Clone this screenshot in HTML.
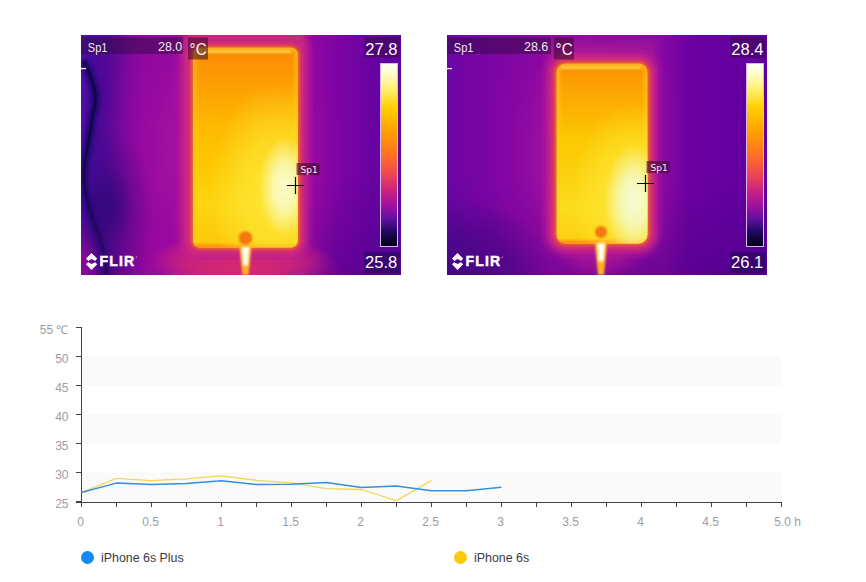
<!DOCTYPE html>
<html><head><meta charset="utf-8">
<style>
html,body{margin:0;padding:0;background:#fff;}
body{width:866px;height:582px;position:relative;overflow:hidden;font-family:"Liberation Sans",Arial,sans-serif;}
.th{position:absolute;top:35px;width:320px;height:240px;overflow:hidden;}
#t1{left:81px;} #t2{left:447px;}
.th svg{display:block;}
#chart{position:absolute;left:0;top:0;}
.lg{position:absolute;top:550px;font-size:12.4px;color:#3a3a44;line-height:16px;}
.lg i{position:absolute;left:0;top:1px;width:13px;height:13px;border-radius:50%;}
.lg span{position:absolute;left:20px;top:-0.5px;white-space:nowrap;}
</style></head>
<body>

<div class="th" id="t1">
<svg width="320" height="240" viewBox="0 0 320 240">
<defs>
  <filter id="b1" x="-50%" y="-50%" width="200%" height="200%"><feGaussianBlur stdDeviation="1"/></filter>
  <filter id="b2" x="-50%" y="-50%" width="200%" height="200%"><feGaussianBlur stdDeviation="2"/></filter>
  <filter id="b3" x="-50%" y="-50%" width="200%" height="200%"><feGaussianBlur stdDeviation="3"/></filter>
  <filter id="b4" x="-50%" y="-50%" width="200%" height="200%"><feGaussianBlur stdDeviation="4"/></filter>
  <filter id="b5" x="-50%" y="-50%" width="200%" height="200%"><feGaussianBlur stdDeviation="5"/></filter>
  <filter id="b8" x="-50%" y="-50%" width="200%" height="200%"><feGaussianBlur stdDeviation="8"/></filter>
  <filter id="b14" x="-50%" y="-50%" width="200%" height="200%"><feGaussianBlur stdDeviation="14"/></filter>
  <filter id="b22" x="-100%" y="-100%" width="300%" height="300%"><feGaussianBlur stdDeviation="22"/></filter>
  <radialGradient id="sMag" cx="0.5" cy="0.5" r="0.5"><stop offset="0" stop-color="#9c08a0" stop-opacity="0.75"/><stop offset="0.5" stop-color="#9c08a0" stop-opacity="0.45"/><stop offset="1" stop-color="#9c08a0" stop-opacity="0"/></radialGradient>
  <radialGradient id="sInd" cx="0.5" cy="0.5" r="0.5"><stop offset="0" stop-color="#300878" stop-opacity="0.6"/><stop offset="0.5" stop-color="#300878" stop-opacity="0.35"/><stop offset="1" stop-color="#300878" stop-opacity="0"/></radialGradient>
  <radialGradient id="sPk" cx="0.5" cy="0.5" r="0.5"><stop offset="0" stop-color="#c01c90" stop-opacity="0.95"/><stop offset="0.55" stop-color="#c01c90" stop-opacity="0.6"/><stop offset="1" stop-color="#c01c90" stop-opacity="0"/></radialGradient>
  <radialGradient id="sRd" cx="0.5" cy="0.5" r="0.5"><stop offset="0" stop-color="#dc2c68" stop-opacity="1"/><stop offset="0.55" stop-color="#d82a6c" stop-opacity="0.7"/><stop offset="1" stop-color="#d82a6c" stop-opacity="0"/></radialGradient>
  <radialGradient id="gl" cx="0.5" cy="0.5" r="0.5">
    <stop offset="0" stop-color="#a810a0" stop-opacity="1"/>
    <stop offset="0.5" stop-color="#a010a0" stop-opacity="0.9"/>
    <stop offset="0.75" stop-color="#9808a0" stop-opacity="0.5"/>
    <stop offset="1" stop-color="#9008a0" stop-opacity="0"/>
  </radialGradient>
  <radialGradient id="gl2" cx="0.5" cy="0.5" r="0.5">
    <stop offset="0" stop-color="#a010a0" stop-opacity="0.9"/>
    <stop offset="0.5" stop-color="#9c10a0" stop-opacity="0.65"/>
    <stop offset="0.75" stop-color="#9008a0" stop-opacity="0.4"/>
    <stop offset="1" stop-color="#9008a0" stop-opacity="0"/>
  </radialGradient>
  <linearGradient id="vd" x1="0" y1="0" x2="0" y2="1">
    <stop offset="0" stop-color="#300070" stop-opacity="0"/>
    <stop offset="0.6" stop-color="#300070" stop-opacity="0"/>
    <stop offset="1" stop-color="#300070" stop-opacity="0.3"/>
  </linearGradient>
  <radialGradient id="hs" cx="0.5" cy="0.5" r="0.5">
    <stop offset="0" stop-color="#fffff4" stop-opacity="1"/>
    <stop offset="0.4" stop-color="#fcfcc8" stop-opacity="0.8"/>
    <stop offset="1" stop-color="#f8f0a0" stop-opacity="0"/>
  </radialGradient>
  <linearGradient id="cb" x1="0" y1="0" x2="0" y2="1">
    <stop offset="0" stop-color="#fffff4"/>
    <stop offset="0.06" stop-color="#fffcc8"/>
    <stop offset="0.14" stop-color="#fff070"/>
    <stop offset="0.24" stop-color="#ffd000"/>
    <stop offset="0.37" stop-color="#ffa000"/>
    <stop offset="0.5" stop-color="#ff7024"/>
    <stop offset="0.6" stop-color="#f04850"/>
    <stop offset="0.7" stop-color="#c82084"/>
    <stop offset="0.78" stop-color="#a010a0"/>
    <stop offset="0.85" stop-color="#6010a0"/>
    <stop offset="0.92" stop-color="#200860"/>
    <stop offset="1" stop-color="#000010"/>
  </linearGradient>

  <linearGradient id="bg1" x1="0" y1="0" x2="320" y2="0" gradientUnits="userSpaceOnUse">
    <stop offset="0" stop-color="#5810a8"/>
    <stop offset="0.03" stop-color="#4a0ca0"/>
    <stop offset="0.06" stop-color="#500898"/>
    <stop offset="0.1" stop-color="#5c0898"/>
    <stop offset="0.16" stop-color="#8008a0"/>
    <stop offset="0.2" stop-color="#9008a0"/>
    <stop offset="0.72" stop-color="#9008a2"/>
    <stop offset="0.8" stop-color="#7c04a4"/>
    <stop offset="0.9" stop-color="#6a02a2"/>
    <stop offset="1" stop-color="#5c06a0"/>
  </linearGradient>
  <linearGradient id="ph1" x1="0" y1="12.5" x2="0" y2="212.5" gradientUnits="userSpaceOnUse">
    <stop offset="0.000" stop-color="#fc8a08"/>
    <stop offset="0.138" stop-color="#fd9802"/>
    <stop offset="0.388" stop-color="#ffb800"/>
    <stop offset="0.588" stop-color="#fcc800"/>
    <stop offset="0.787" stop-color="#fdd510"/>
    <stop offset="1.000" stop-color="#fcc808"/>
  </linearGradient>
  <radialGradient id="ov1" cx="0.5" cy="0.5" r="0.5">
    <stop offset="0" stop-color="#fde838" stop-opacity="0.95"/>
    <stop offset="0.5" stop-color="#fde838" stop-opacity="0.6"/>
    <stop offset="1" stop-color="#fde838" stop-opacity="0"/>
  </radialGradient>
  <radialGradient id="hc1" cx="0.5" cy="0.5" r="0.5">
    <stop offset="0" stop-color="#fafcd0" stop-opacity="1"/>
    <stop offset="0.45" stop-color="#fafcd0" stop-opacity="0.75"/>
    <stop offset="1" stop-color="#fafcd0" stop-opacity="0"/>
  </radialGradient>
  <clipPath id="pc1"><rect x="112" y="12.5" width="104.8" height="200" rx="7"/></clipPath>
</defs>
<rect width="320" height="240" fill="url(#bg1)"/>
<rect width="320" height="240" fill="url(#vd)"/>
<ellipse cx="2" cy="230" rx="22" ry="50" fill="url(#sMag)"/>
<ellipse cx="2" cy="230" rx="14" ry="35" fill="url(#sMag)"/>
<path d="M3 26 C3.8 27.8,6.3 33.2,7.8 37 C9.3 40.8,10.9 45.0,12 49 C13.1 53.0,14.2 57.0,14.5 61 C14.8 65.0,14.1 69.0,13.5 73 C12.9 77.0,11.5 81.3,10.8 85 C10.2 88.7,10.2 90.8,9.6 95 C9.0 99.2,7.9 104.5,7 110 C6.1 115.5,4.7 122.2,4 128 C3.3 133.8,2.7 139.0,3 145 C3.3 151.0,4.3 157.2,6 164 C7.7 170.8,10.4 178.2,13 186 C15.6 193.8,19.4 202.0,21.5 211 C23.6 220.0,25.0 235.2,25.7 240" stroke="#2a0a80" stroke-width="9" fill="none" opacity="0.5" filter="url(#b4)"/>
<path d="M3 26 C3.8 27.8,6.3 33.2,7.8 37 C9.3 40.8,10.9 45.0,12 49 C13.1 53.0,14.2 57.0,14.5 61 C14.8 65.0,14.1 69.0,13.5 73 C12.9 77.0,11.5 81.3,10.8 85 C10.2 88.7,10.2 90.8,9.6 95 C9.0 99.2,7.9 104.5,7 110 C6.1 115.5,4.7 122.2,4 128 C3.3 133.8,2.7 139.0,3 145 C3.3 151.0,4.3 157.2,6 164 C7.7 170.8,10.4 178.2,13 186 C15.6 193.8,19.4 202.0,21.5 211 C23.6 220.0,25.0 235.2,25.7 240" stroke="#1a0868" stroke-width="6" fill="none" filter="url(#b2)"/>
<path d="M3 26 C3.8 27.8,6.3 33.2,7.8 37 C9.3 40.8,10.9 45.0,12 49 C13.1 53.0,14.2 57.0,14.5 61 C14.8 65.0,14.1 69.0,13.5 73 C12.9 77.0,11.5 81.3,10.8 85 C10.2 88.7,10.2 90.8,9.6 95 C9.0 99.2,7.9 104.5,7 110 C6.1 115.5,4.7 122.2,4 128 C3.3 133.8,2.7 139.0,3 145 C3.3 151.0,4.3 157.2,6 164 C7.7 170.8,10.4 178.2,13 186 C15.6 193.8,19.4 202.0,21.5 211 C23.6 220.0,25.0 235.2,25.7 240" stroke="#12044a" stroke-width="3" fill="none" filter="url(#b1)"/>
<ellipse cx="142" cy="125" rx="120" ry="200" fill="url(#gl)"/>
<ellipse cx="80" cy="210" rx="70" ry="75" fill="url(#sMag)"/>
<ellipse cx="28" cy="178" rx="45" ry="85" fill="url(#sInd)"/>
<ellipse cx="28" cy="170" rx="22" ry="40" fill="url(#sInd)"/>
<ellipse cx="160" cy="236" rx="100" ry="40" fill="url(#sPk)"/>
<ellipse cx="160" cy="226" rx="90" ry="28" fill="url(#sRd)"/>
<rect x="104" y="-5" width="120" height="22" fill="#dc3464" filter="url(#b5)"/>
<rect x="101" y="1.5" width="126.8" height="222" rx="18" fill="#bc1c98" filter="url(#b5)"/>
<rect x="99" y="8" width="18" height="212" fill="#cc2488" opacity="0.5" filter="url(#b4)"/>
<rect x="106" y="6.5" width="116.8" height="212" rx="13" fill="#d83068" filter="url(#b3)"/>
<rect x="110" y="10.5" width="108.8" height="204" rx="9" fill="#ec6030" filter="url(#b1)"/>
<g clip-path="url(#pc1)">
  <rect x="112" y="12.5" width="104.8" height="200" fill="url(#ph1)"/>
  <rect x="112" y="12.5" width="104.8" height="200" rx="7" fill="none" stroke="#fcd028" stroke-opacity="0.7" stroke-width="5" filter="url(#b2)"/>
  <rect x="112" y="209.0" width="104.8" height="6" fill="#fc9810" filter="url(#b1)"/>
  <ellipse cx="196" cy="158" rx="68" ry="110" fill="url(#ov1)"/>
  <ellipse cx="204" cy="152" rx="26" ry="50" fill="url(#hc1)"/>
  <rect x="117" y="15.0" width="92.8" height="3" fill="#ffd040" filter="url(#b1)"/>
</g>
<circle cx="164.5" cy="203" r="6.8" fill="#f47810" filter="url(#b1)"/>
<path d="M158.5 212.0 L170.5 212.0 L167.5 240 L161.5 240 Z" fill="#ffb020" filter="url(#b1)"/>
<path d="M160.5 212.0 L168.5 212.0 L167.0 230.5 L162.0 230.5 Z" fill="#fffce8" filter="url(#b1)"/>
<rect x="0" y="2.5" width="102" height="16.5" fill="#300a40" opacity="0.5"/>
<text x="6.8" y="16.5" font-family="Liberation Sans,sans-serif" font-size="12.8" fill="#f4e8f4" textLength="19.6" lengthAdjust="spacingAndGlyphs">Sp1</text>
<text x="101.3" y="16" text-anchor="end" font-family="Liberation Sans,sans-serif" font-size="12.5" fill="#f4e8f4">28.0</text>
<rect x="107" y="2.5" width="20" height="22" fill="#3a0a2a" opacity="0.55"/>
<text x="108.6" y="20.2" font-family="Liberation Sans,sans-serif" font-size="17" fill="#fff0f0" textLength="17" lengthAdjust="spacingAndGlyphs">°C</text>
<rect x="0" y="33" width="5" height="1.2" fill="#fff"/>
<rect x="283.5" y="2" width="35" height="20.5" fill="#3a0a4a" opacity="0.55"/>
<text x="316.6" y="20.2" text-anchor="end" font-family="Liberation Sans,sans-serif" font-size="16.6" fill="#fff8ff">27.8</text>
<rect x="299.5" y="28.5" width="17" height="183" fill="url(#cb)" stroke="#d8b8f0" stroke-width="1"/>
<rect x="283.5" y="217" width="35" height="21" fill="#1a0a4a" opacity="0.5"/>
<text x="316.3" y="232.7" text-anchor="end" font-family="Liberation Sans,sans-serif" font-size="16.6" fill="#fff8ff">25.8</text>
<g fill="#fff8ff">
  <path d="M10.5 218 L16.2 223.6 L14.1 225.9 L10.7 224.1 L7.2 225.9 L5 223.6 Z"/>
  <path d="M5 229.3 L7.2 227.2 L10.7 229 L14.1 227.2 L16.2 229.3 L10.5 235 Z"/>
  <text x="18.6" y="230.9" font-family="Liberation Sans,sans-serif" font-weight="bold" font-size="14" letter-spacing="1.1" stroke="#fff8ff" stroke-width="0.5">FLIR</text>
  <circle cx="55.3" cy="222" r="0.6"/>
</g>
<rect x="215.5" y="128.0" width="23" height="12" fill="#3a0a2a" opacity="0.6"/>
<text x="219.5" y="137.5" font-family="DejaVu Sans,sans-serif" font-size="9" fill="#fff0ff">Sp1</text>
<path d="M206.0 150.5 H223.0 M214.5 142.0 V159.0" stroke="#000" stroke-width="1.2"/>
</svg>
</div>

<div class="th" id="t2">
<svg width="320" height="240" viewBox="0 0 320 240">
<defs>
  <linearGradient id="bg2" x1="0" y1="0" x2="320" y2="0" gradientUnits="userSpaceOnUse">
    <stop offset="0" stop-color="#6a06a4"/>
    <stop offset="0.1" stop-color="#7804a4"/>
    <stop offset="0.28" stop-color="#8606a4"/>
    <stop offset="0.68" stop-color="#8408a4"/>
    <stop offset="0.76" stop-color="#6c00a2"/>
    <stop offset="1" stop-color="#6000a0"/>
  </linearGradient>
  <linearGradient id="ph2" x1="0" y1="28.5" x2="0" y2="208.5" gradientUnits="userSpaceOnUse">
    <stop offset="0.000" stop-color="#fc8a08"/>
    <stop offset="0.086" stop-color="#fd9c02"/>
    <stop offset="0.419" stop-color="#fcc800"/>
    <stop offset="0.808" stop-color="#fcdc1c"/>
    <stop offset="1.000" stop-color="#fcd010"/>
  </linearGradient>
  <radialGradient id="ov2" cx="0.5" cy="0.5" r="0.5">
    <stop offset="0" stop-color="#fde838" stop-opacity="0.95"/>
    <stop offset="0.5" stop-color="#fde838" stop-opacity="0.6"/>
    <stop offset="1" stop-color="#fde838" stop-opacity="0"/>
  </radialGradient>
  <radialGradient id="hc2" cx="0.5" cy="0.5" r="0.5">
    <stop offset="0" stop-color="#f4fcd8" stop-opacity="1"/>
    <stop offset="0.45" stop-color="#f4fcd8" stop-opacity="0.75"/>
    <stop offset="1" stop-color="#f4fcd8" stop-opacity="0"/>
  </radialGradient>
  <clipPath id="pc2"><rect x="109.5" y="28.5" width="91" height="180" rx="9"/></clipPath>
</defs>
<rect width="320" height="240" fill="url(#bg2)"/>
<rect width="320" height="240" fill="url(#vd)"/>

<ellipse cx="136" cy="118" rx="100" ry="165" fill="url(#gl2)"/>
<ellipse cx="15" cy="235" rx="90" ry="70" fill="url(#sInd)"/>
<ellipse cx="154" cy="224" rx="40" ry="18" fill="url(#sPk)" opacity="0.6"/>
<rect x="100" y="5" width="110" height="25" fill="#b02090" opacity="0.5" filter="url(#b5)"/>
<rect x="98.5" y="17.5" width="113" height="202" rx="20" fill="#bc1c98" filter="url(#b5)"/>

<rect x="103.5" y="22.5" width="103" height="192" rx="15" fill="#d83068" filter="url(#b3)"/>
<rect x="107.5" y="26.5" width="95" height="184" rx="11" fill="#ec6030" filter="url(#b1)"/>
<g clip-path="url(#pc2)">
  <rect x="109.5" y="28.5" width="91" height="180" fill="url(#ph2)"/>
  <rect x="109.5" y="28.5" width="91" height="180" rx="9" fill="none" stroke="#fcd028" stroke-opacity="0.7" stroke-width="5" filter="url(#b2)"/>
  <rect x="109.5" y="205.0" width="91" height="6" fill="#fc9810" filter="url(#b1)"/>
  <ellipse cx="186" cy="160" rx="62" ry="92" fill="url(#ov2)"/>
  <ellipse cx="187" cy="166" rx="30" ry="56" fill="url(#hc2)"/>
  <rect x="114.5" y="31.0" width="79" height="3" fill="#ffd040" filter="url(#b1)"/>
</g>
<circle cx="154" cy="197" r="6" fill="#f47810" filter="url(#b1)"/>
<path d="M148 208.0 L160 208.0 L157 240 L151 240 Z" fill="#ffb020" filter="url(#b1)"/>
<path d="M150 208.0 L158 208.0 L156.5 226.5 L151.5 226.5 Z" fill="#fffce8" filter="url(#b1)"/>
<rect x="0" y="2.5" width="104" height="16.5" fill="#300a40" opacity="0.5"/>
<text x="6.8" y="16.5" font-family="Liberation Sans,sans-serif" font-size="12.8" fill="#f4e8f4" textLength="19.6" lengthAdjust="spacingAndGlyphs">Sp1</text>
<text x="101.3" y="16" text-anchor="end" font-family="Liberation Sans,sans-serif" font-size="12.5" fill="#f4e8f4">28.6</text>
<rect x="107" y="2.5" width="20" height="22" fill="#3a0a2a" opacity="0.55"/>
<text x="108.6" y="20.2" font-family="Liberation Sans,sans-serif" font-size="17" fill="#fff0f0" textLength="17" lengthAdjust="spacingAndGlyphs">°C</text>
<rect x="0" y="33" width="5" height="1.2" fill="#fff"/>
<rect x="283.5" y="2" width="35" height="20.5" fill="#3a0a4a" opacity="0.55"/>
<text x="316.6" y="20.2" text-anchor="end" font-family="Liberation Sans,sans-serif" font-size="16.6" fill="#fff8ff">28.4</text>
<rect x="299.5" y="28.5" width="17" height="183" fill="url(#cb)" stroke="#d8b8f0" stroke-width="1"/>
<rect x="283.5" y="217" width="35" height="21" fill="#1a0a4a" opacity="0.5"/>
<text x="316.3" y="232.7" text-anchor="end" font-family="Liberation Sans,sans-serif" font-size="16.6" fill="#fff8ff">26.1</text>
<g fill="#fff8ff">
  <path d="M10.5 218 L16.2 223.6 L14.1 225.9 L10.7 224.1 L7.2 225.9 L5 223.6 Z"/>
  <path d="M5 229.3 L7.2 227.2 L10.7 229 L14.1 227.2 L16.2 229.3 L10.5 235 Z"/>
  <text x="18.6" y="230.9" font-family="Liberation Sans,sans-serif" font-weight="bold" font-size="14" letter-spacing="1.1" stroke="#fff8ff" stroke-width="0.5">FLIR</text>
  <circle cx="55.3" cy="222" r="0.6"/>
</g>
<rect x="199.5" y="126.0" width="23" height="12" fill="#3a0a2a" opacity="0.6"/>
<text x="203.5" y="135.5" font-family="DejaVu Sans,sans-serif" font-size="9" fill="#fff0ff">Sp1</text>
<path d="M190.0 148.5 H207.0 M198.5 140.0 V157.0" stroke="#000" stroke-width="1.2"/>
</svg>
</div>

<svg id="chart" width="866" height="582" viewBox="0 0 866 582">
  <g fill="#fafafa">
    <rect x="82" y="356.4" width="700" height="29"/>
    <rect x="82" y="414.5" width="700" height="29"/>
    <rect x="82" y="472.5" width="700" height="29"/>
  </g>
  <g stroke="#444" stroke-width="1" fill="none">
    <path d="M81.5 327 V502.5 M76 327.5 H81.5 M76 356.5 H81.5 M76 385.5 H81.5 M76 414.5 H81.5 M76 443.5 H81.5 M76 472.5 H81.5 M76 501.5 H81.5"/>
    <path d="M76 502.5 H782"/>
  </g>
  <g stroke="#444" stroke-width="1" id="xt"><path d="M81.5 502.5 V507 M116.5 502.5 V507 M151.5 502.5 V507 M186.5 502.5 V507 M221.5 502.5 V507 M256.5 502.5 V507 M291.5 502.5 V507 M326.5 502.5 V507 M361.5 502.5 V507 M396.5 502.5 V507 M431.5 502.5 V507 M466.5 502.5 V507 M501.5 502.5 V507 M536.5 502.5 V507 M571.5 502.5 V507 M606.5 502.5 V507 M641.5 502.5 V507 M676.5 502.5 V507 M711.5 502.5 V507 M746.5 502.5 V507 M781.5 502.5 V507"/></g>
  <g font-family="Liberation Sans,Arial,sans-serif" font-size="12" fill="#9c9ca4" text-anchor="end">
    <text x="68.5" y="334">55 ℃</text>
    <text x="68.5" y="362.6">50</text>
    <text x="68.5" y="391.6">45</text>
    <text x="68.5" y="420.6">40</text>
    <text x="68.5" y="449.6">35</text>
    <text x="68.5" y="478.6">30</text>
    <text x="68.5" y="507.6">25</text>
  </g>
  <g font-family="Liberation Sans,Arial,sans-serif" font-size="12" fill="#9c9ca4" text-anchor="middle" id="xl"><text x="80.6" y="525.6">0</text><text x="150.7" y="525.6">0.5</text><text x="220.7" y="525.6">1</text><text x="290.7" y="525.6">1.5</text><text x="360.7" y="525.6">2</text><text x="430.7" y="525.6">2.5</text><text x="500.7" y="525.6">3</text><text x="570.6" y="525.6">3.5</text><text x="640.6" y="525.6">4</text><text x="710.6" y="525.6">4.5</text><text x="787.5" y="525.6">5.0 h</text></g>
  <polyline id="yl" fill="none" stroke="#f2d658" stroke-width="1.3" stroke-linejoin="round" points="81.3,492.5 116.3,478.3 151.3,480.6 186.3,478.8 221.3,475.8 256.4,480.3 291.4,482.9 326.4,488.7 361.4,489.5 396.4,500.6 431.4,480.6"/>
  <polyline id="bl" fill="none" stroke="#3590dc" stroke-width="1.5" stroke-linejoin="round" points="81.3,492.5 116.3,483.1 151.3,484.4 186.3,483.6 221.3,480.8 256.4,484.6 291.4,484.2 326.4,482.4 361.4,487.4 396.4,485.9 431.4,490.7 466.4,490.7 501.4,487.2"/>
</svg>

<div class="lg" style="left:81px;"><i style="background:#1489ee"></i><span>iPhone 6s Plus</span></div>
<div class="lg" style="left:454px;"><i style="background:#fcc80a"></i><span>iPhone 6s</span></div>

</body></html>
